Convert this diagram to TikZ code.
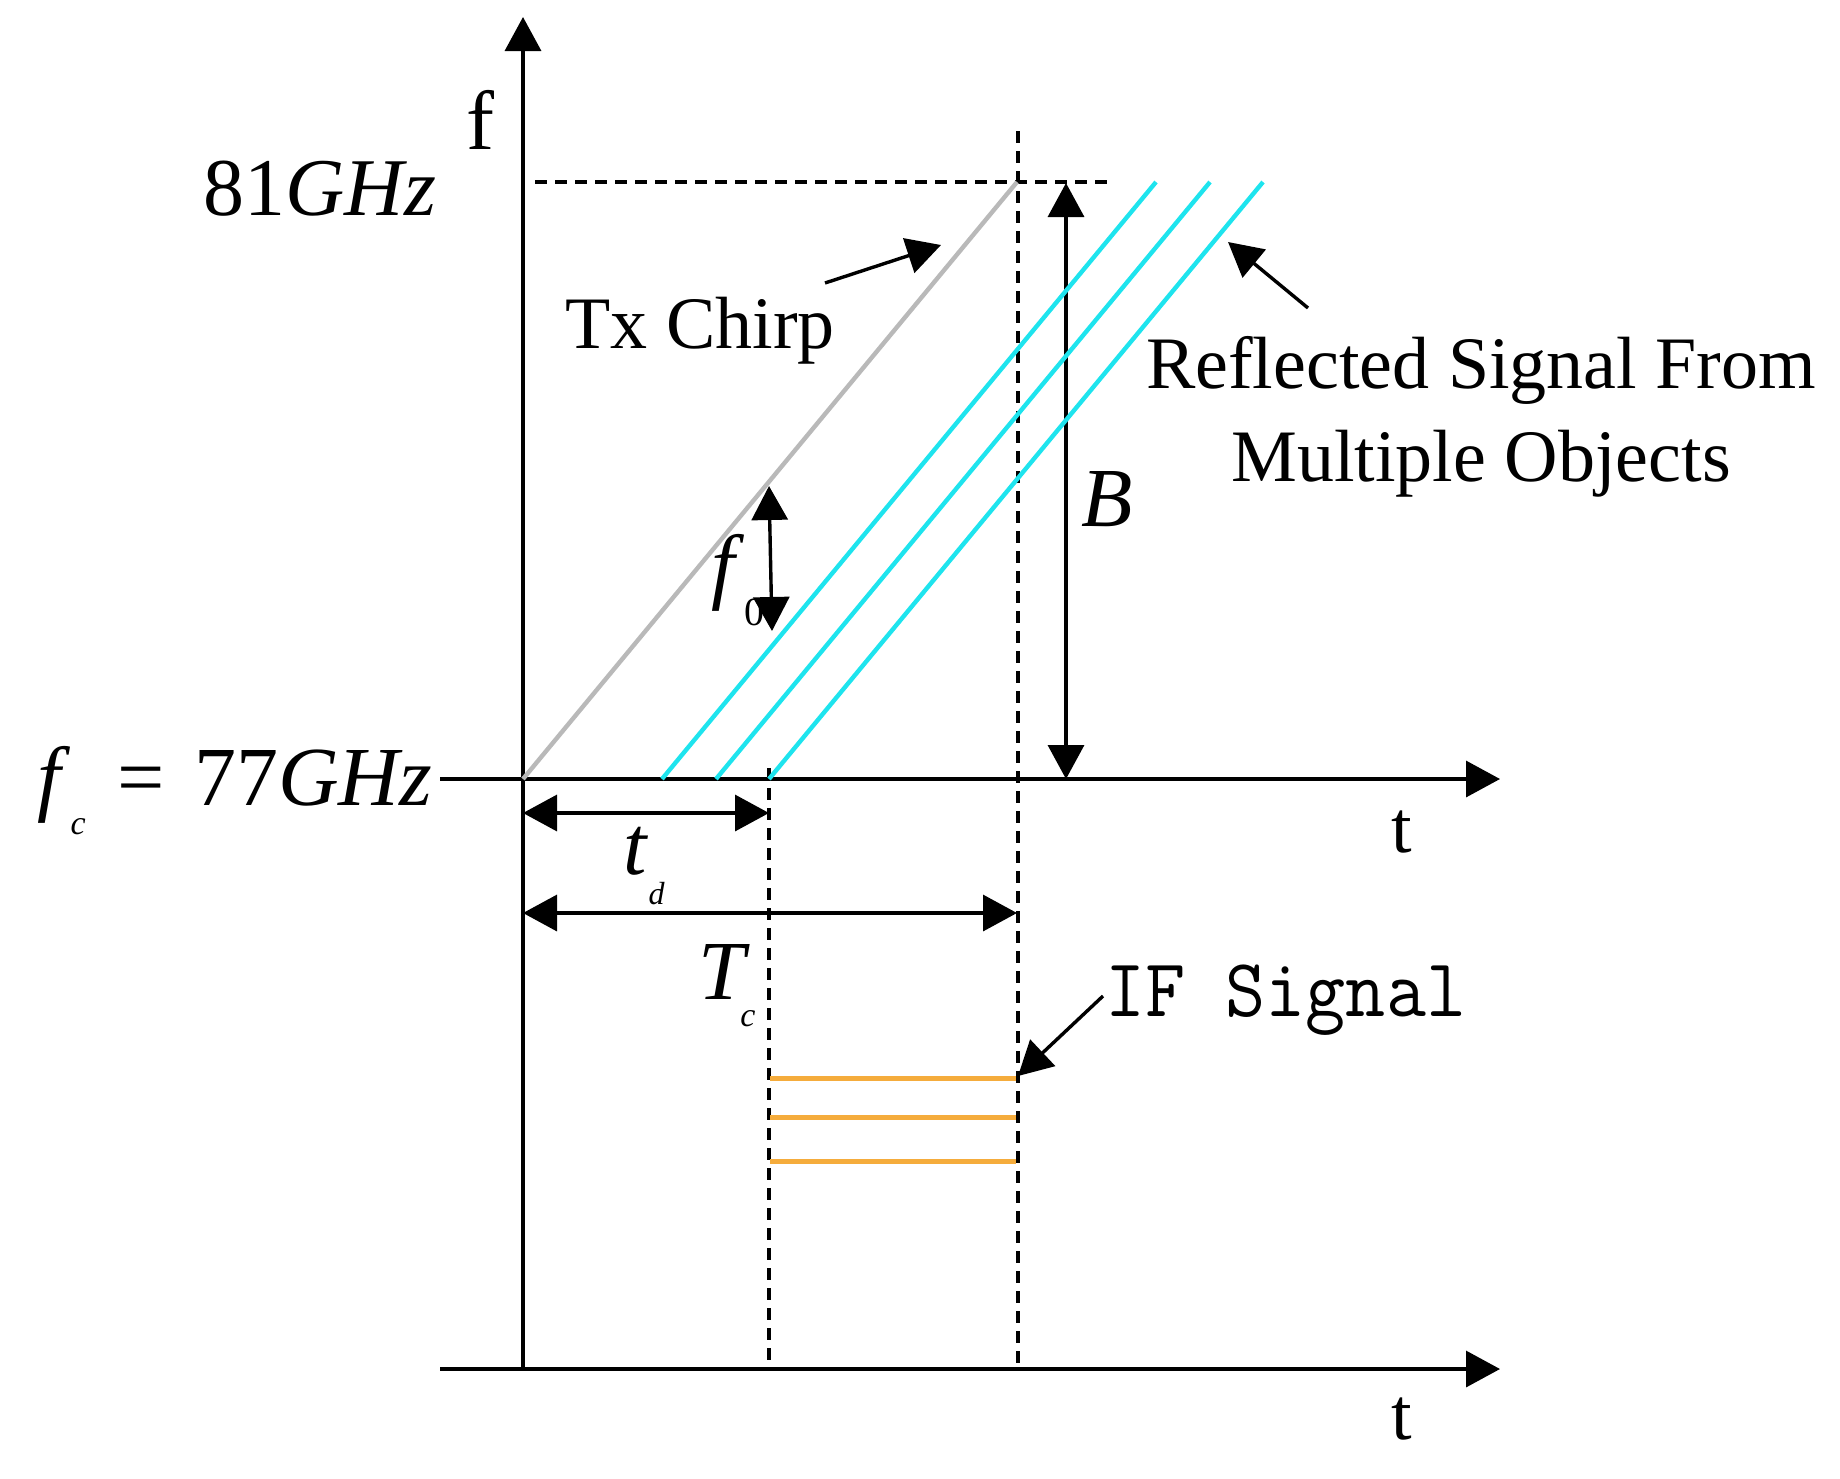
\documentclass[tikz,border=0pt]{standalone}
\usepackage{fontspec}
\setmainfont{Liberation Serif}
\usetikzlibrary{arrows.meta}
\definecolor{chirpgray}{RGB}{185,185,185}
\definecolor{echocyan}{RGB}{30,228,238}
\definecolor{iforange}{RGB}{245,172,60}

\begin{document}
\begin{tikzpicture}[x=0.5pt, y=-0.5pt, line width=1.7pt,
    axarrow/.style={-{Triangle[length=17pt,width=18pt]}},
    dimarrow/.style={{Triangle[length=17pt,width=18pt]}-{Triangle[length=17pt,width=18pt]}},
    dashline/.style={dash pattern=on 6pt off 4pt},
    lbl/.style={inner sep=0pt, anchor=base west},
    biglabel/.style={font=\fontsize{42}{42}\selectfont},
    textlabel/.style={font=\fontsize{37}{46.5}\selectfont}]
    \useasboundingbox (0,0) rectangle (1840,1478);

    % axes
    \coordinate(o) at (523,779);
    \coordinate(ftop) at (523,17);
    \coordinate(fbot) at (523,1369);
    \coordinate(t1l) at (440,779);
    \coordinate(t1r) at (1500,779);
    \coordinate(t2l) at (440,1369);
    \coordinate(t2r) at (1500,1369);

    % dashed guides
    \coordinate(top) at (1017,182);
    \coordinate(fmax) at (535,182);
    \coordinate(fmaxr) at (1114,182);
    \coordinate(tc1) at (1018,131);
    \coordinate(tc2) at (1018,1369);
    \coordinate(td1) at (769,768);
    \coordinate(td2) at (769,1369);

    % dimension arrows
    \coordinate(b1) at (1066,183);
    \coordinate(b2) at (1066,779);
    \coordinate(f0a) at (769,486);
    \coordinate(f0b) at (772,631);
    \coordinate(tda) at (523,813);
    \coordinate(tdb) at (769,813);
    \coordinate(tca) at (523,913);
    \coordinate(tcb) at (1017,913);

    % pointer arrows
    \coordinate(txa) at (825,283);
    \coordinate(txb) at (941,245);
    \coordinate(rfa) at (1308,308);
    \coordinate(rfb) at (1228,242);
    \coordinate(ifa) at (1103,996);
    \coordinate(ifb) at (1018,1076);

    \node[lbl, biglabel] (flab) at (465,149) {f};
    \node[lbl, font=\fontsize{41}{41}\selectfont] (fhi) at (202,215) {81\textit{GHz}};
    \node[lbl, biglabel] (fc) at (36,805)
        {\textit{f}\raisebox{-14.5pt}{\fontsize{17}{17}\selectfont\textit{c}}\hspace{16pt}= \hspace{4pt}77\textit{GHz}};
    \node[lbl, textlabel] (tx) at (564,348) {Tx Chirp};
    \node[inner sep=0pt, anchor=north, align=center, textlabel] (refl) at (1481,335)
        {Reflected Signal From\\Multiple Objects};
    \node[lbl, biglabel] (blab) at (1080,526) {\textit{B}};
    \node[lbl, textlabel] (t1lab) at (1390,852) {t};
    \node[lbl, textlabel] (t2lab) at (1390,1439) {t};
    \node[lbl, biglabel] (tdlab) at (622,874)
        {\textit{t}\raisebox{-15pt}{\fontsize{16}{16}\selectfont\textit{d}}};
    \node[lbl, biglabel] (tclab) at (697,999)
        {\textit{T}\hspace{-5pt}\raisebox{-13.5pt}{\fontsize{17}{17}\selectfont\textit{c}}};
    \node[lbl, biglabel] (f0lab) at (710,593)
        {\textit{f}\raisebox{-16pt}{\fontsize{20}{20}\selectfont 0}};
    \node[lbl, font=\ttfamily\fontsize{36}{36}\selectfont] (iflab) at (1104,1016)
        {\scalebox{1.08}[1.15]{IF Signal}};

    \draw (fbot) edge[axarrow] (ftop)
          (t1l) edge[axarrow] (t1r)
          (t2l) edge[axarrow] (t2r);
    \draw (fmax) edge[dashline] (fmaxr)
          (tc1) edge[dashline] (tc2)
          (td1) edge[dashline] (td2);
    \draw (b1) edge[dimarrow] (b2)
          (f0a) edge[dimarrow] (f0b)
          (tda) edge[dimarrow] (tdb)
          (tca) edge[dimarrow] (tcb);
    \draw (txa) edge[axarrow] (txb)
          (rfa) edge[axarrow] (rfb)
          (ifa) edge[axarrow] (ifb);

    % chirps
    \draw[chirpgray, line width=2.2pt] (o) -- (top);
    \foreach \dx [count=\i] in {139,193,246} {
        \coordinate(e\i a) at (523+\dx,779);
        \coordinate(e\i b) at (1017+\dx,182);
        \draw[echocyan, line width=2.2pt] (e\i a) -- (e\i b);
    }

    % IF tones
    \foreach \y [count=\i] in {1078,1117,1161} {
        \coordinate(if\i a) at (770,\y);
        \coordinate(if\i b) at (1016,\y);
        \draw[iforange, line width=2.5pt] (if\i a) -- (if\i b);
    }
\end{tikzpicture}
\end{document}
